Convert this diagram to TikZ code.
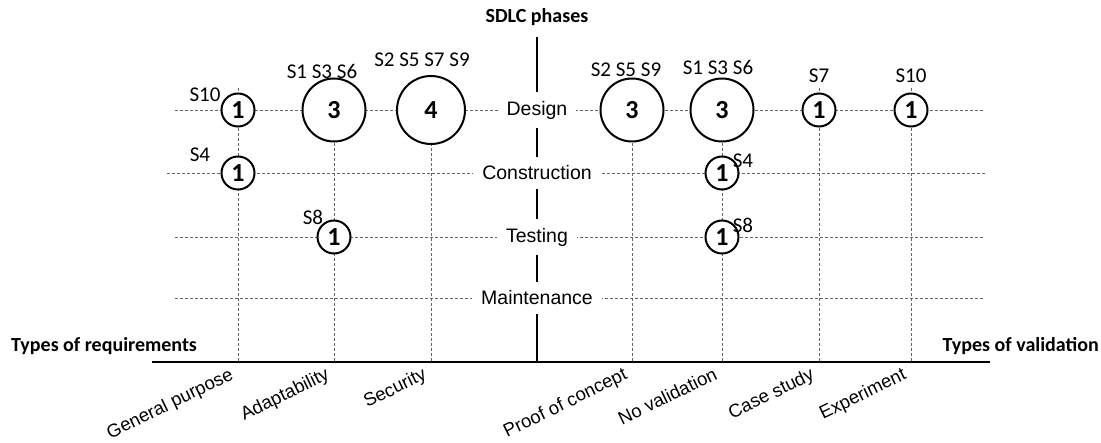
\documentclass[tikz,border=0pt]{standalone}
\usepackage{fontspec}
\setmainfont{Liberation Sans}
\newfontfamily\califont{Carlito}
\usetikzlibrary{positioning}

\tikzset{
  phase/.style={fill=white, inner xsep=9pt, inner ysep=9pt, font=\fontsize{19.5}{21}\selectfont},
  bubble/.style={circle, draw, line width=2pt, fill=white, inner sep=0pt, font=\califont\bfseries\fontsize{26}{28}\selectfont},
  small/.style={bubble, minimum size=33pt},
  big/.style={bubble, minimum size=63pt},
  huge/.style={bubble, minimum size=68pt},
  slbl/.style={font=\califont\fontsize{21}{23}\selectfont, inner sep=1pt},
  gridln/.style={dash pattern=on 3pt off 2pt, line width=0.6pt, black!60},
  axis/.style={line width=2.6pt},
  cat/.style={rotate=26, anchor=north east, font=\fontsize{18.5}{20}\selectfont, inner sep=1pt},
  axtitle/.style={font=\califont\bfseries\fontsize{20}{22}\selectfont, inner sep=1pt},
}

\begin{document}
\begin{tikzpicture}[x=1pt, y=-1pt]
	\useasboundingbox (0,0) rectangle (1101,443);
	% axes ends
	\coordinate (axl) at (152,362);
	\coordinate (axr) at (990,362);
	\coordinate (axt) at (537,37);
	\coordinate (axb) at (537,362);
	% columns (top of the dashed lines)
	\coordinate (gp) at (238,88);
	\coordinate (ad) at (334,88);
	\coordinate (se) at (431,88);
	\coordinate (pc) at (632,88);
	\coordinate (nv) at (722,88);
	\coordinate (cs) at (819,88);
	\coordinate (ex) at (911,88);
	% rows
	\coordinate (dl) at (175,110);  \coordinate (dr) at (985,110);
	\coordinate (cl) at (167,173);  \coordinate (cr) at (985,173);
	\coordinate (tl) at (175,237);  \coordinate (tr) at (985,237);
	\coordinate (ml) at (175,298);  \coordinate (mr) at (985,298);

	\draw[gridln] (gp) -- (gp |- axl);
	\draw[gridln] (ad) -- (ad |- axl);
	\draw[gridln] (se) -- (se |- axl);
	\draw[gridln] (pc) -- (pc |- axl);
	\draw[gridln] (nv) -- (nv |- axl);
	\draw[gridln] (cs) -- (cs |- axl);
	\draw[gridln] (ex) -- (ex |- axl);
	\draw[gridln] (dl) -- (dr);
	\draw[gridln] (cl) -- (cr);
	\draw[gridln] (tl) -- (tr);
	\draw[gridln] (ml) -- (mr);

	\draw[axis] (axt) -- (axb);
	\draw[axis] (axl) -- (axr);

	\node[axtitle] (sdlc) at (537,17) {SDLC phases};
	\node[axtitle, anchor=west] (treq) at (10,346) {Types of requirements};
	\node[axtitle, anchor=east] (tval) at (1100,346) {Types of validation};

	\node[phase] (design) at (axt |- dl) {Design};
	\node[phase] (constr) at (axt |- cl) {Construction};
	\node[phase] (testing) at (axt |- tl) {Testing};
	\node[phase] (maint) at (axt |- ml) {Maintenance};

	% bubbles
	\node[small] (gpD) at (gp |- dl) {1};
	\node[small] (gpC) at (gp |- cl) {1};
	\node[big] (adD) at (ad |- dl) {3};
	\node[small] (adT) at (ad |- tl) {1};
	\node[huge] (seD) at (se |- dl) {4};
	\node[big] (pcD) at (pc |- dl) {3};
	\node[big] (nvD) at (nv |- dl) {3};
	\node[small] (nvC) at (nv |- cl) {1};
	\node[small] (nvT) at (nv |- tl) {1};
	\node[small] (csD) at (cs |- dl) {1};
	\node[small] (exD) at (ex |- dl) {1};

	\node[slbl] at ([xshift=-33pt,yshift=15pt]gpD) {S10};
	\node[slbl] at ([xshift=-38pt,yshift=18pt]gpC) {S4};
	\node[slbl] at ([xshift=-12pt,yshift=39pt]adD) {S1 S3 S6};
	\node[slbl] at ([xshift=-21pt,yshift=20pt]adT) {S8};
	\node[slbl] at ([xshift=-9pt,yshift=50pt]seD) {S2 S5 S7 S9};
	\node[slbl] at ([xshift=-6pt,yshift=40pt]pcD) {S2 S5 S9};
	\node[slbl] at ([xshift=-4pt,yshift=43pt]nvD) {S1 S3 S6};
	\node[slbl] at ([xshift=21pt,yshift=12pt]nvC) {S4};
	\node[slbl] at ([xshift=21pt,yshift=12pt]nvT) {S8};
	\node[slbl] at ([yshift=34pt]csD) {S7};
	\node[slbl] at ([yshift=34pt]exD) {S10};

	% categories
	\node[cat] (gpL) at ([xshift=-9pt,yshift=-3pt]gp |- axl) {General purpose};
	\node[cat] (adL) at ([xshift=-9pt,yshift=-3pt]ad |- axl) {Adaptability};
	\node[cat] (seL) at ([xshift=-9pt,yshift=-3pt]se |- axl) {Security};
	\node[cat] (pcL) at ([xshift=-9pt,yshift=-3pt]pc |- axl) {Proof of concept};
	\node[cat] (nvL) at ([xshift=-9pt,yshift=-3pt]nv |- axl) {No validation};
	\node[cat] (csL) at ([xshift=-9pt,yshift=-3pt]cs |- axl) {Case study};
	\node[cat] (exL) at ([xshift=-9pt,yshift=-3pt]ex |- axl) {Experiment};
\end{tikzpicture}
\end{document}
